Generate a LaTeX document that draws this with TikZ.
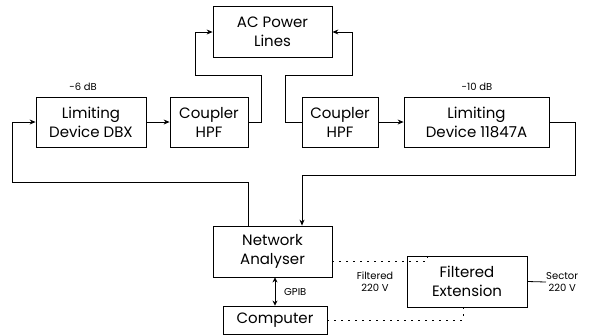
\documentclass[tikz,border=0pt]{standalone}
\usepackage{fontspec}
\setmainfont{Poppins}
\usepackage{tikz}
\usetikzlibrary{arrows.meta,positioning}

\begin{document}
\begin{tikzpicture}[
  x=1pt, y=-1pt,
  box/.style={draw, thick, align=center, inner sep=0pt, font=\fontsize{15}{19}\selectfont},
  arrow/.style={-{Stealth[length=6pt,width=5pt]}, thick},
  wire/.style={thick},
  dots/.style={thick, dash pattern=on 1.5pt off 5.5pt},
  lbl/.style={align=center, inner sep=0pt, font=\fontsize{10}{12}\selectfont}
]
\useasboundingbox (0,0) rectangle (592,335);
% blocks
\node[box, minimum width=119pt, minimum height=51pt] (acpower) at (272.5,32) {AC Power\\Lines};
\node[box, minimum width=110pt, minimum height=50pt] (dbx) at (91,122) {Limiting\\Device DBX};
\node[box, minimum width=78pt, minimum height=50pt] (cplL) at (209,122) {Coupler\\HPF};
\node[box, minimum width=76pt, minimum height=50pt] (cplR) at (340,122) {Coupler\\HPF};
\node[box, minimum width=145pt, minimum height=50pt] (lim) at (476.5,122) {Limiting\\Device 11847A};
\node[box, minimum width=119pt, minimum height=51pt] (analyser) at (272.5,251.5) {Network\\Analyser};
\node[box, minimum width=104pt, minimum height=28pt] (computer) at (275,320) {Computer};
\node[box, minimum width=120pt, minimum height=51pt] (ext) at (467,281.5) {Filtered\\Extension};
% labels
\node[lbl] (attdbx) at (83,87) {-6 dB};
\node[lbl] (attlim) at (477,87) {-10 dB};
\node[lbl] (filtered) at (375,282) {Filtered\\220 V};
\node[lbl, anchor=west] (sector) at (546,282) {Sector\\220 V};
\node[lbl, anchor=west] (gpib) at (284,292) {GPIB};
% connections
\draw[arrow] (dbx) -- (cplL);
\draw[arrow] (cplR) -- (lim);
\draw[arrow] (cplL.east) -| (261,75) -| (195,32) -- (acpower.west);
\draw[arrow] (cplR.west) -| (285,75) -| (352,32) -- (acpower.east);
\draw[arrow] (lim.east) -| (575,175) -| ([xshift=29.5pt]analyser.north);
\draw[arrow] ([xshift=-24.5pt]analyser.north) |- (12,182) |- (dbx.west);
\draw[{Stealth[length=5pt,width=5pt]}-{Stealth[length=5pt,width=5pt]}, thick] (computer.north |- analyser.south) -- (computer.north);
\draw[dots] ([yshift=-9.5pt]analyser.east) -| ([xshift=-40pt]ext.north);
\draw[dots] (computer.east) -| ([xshift=-4pt]ext.south);
\draw[wire] (ext.east) -- (sector.west);
\end{tikzpicture}
\end{document}
